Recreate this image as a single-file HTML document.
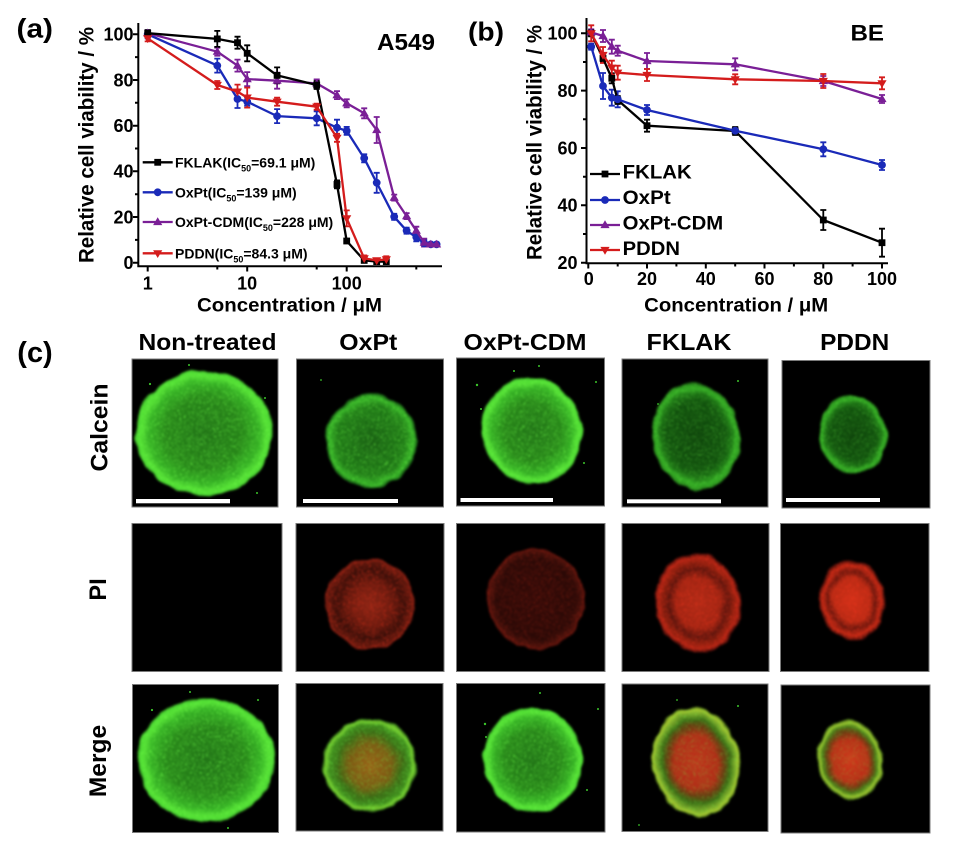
<!DOCTYPE html>
<html><head><meta charset="utf-8"><style>
html,body{margin:0;padding:0;background:#fff;}
svg{display:block;}
</style></head><body>
<svg width="955" height="845" viewBox="0 0 955 845" xmlns="http://www.w3.org/2000/svg" font-family="'Liberation Sans', Arial, sans-serif" font-weight="bold">
<defs>
<marker id="mSq" markerUnits="userSpaceOnUse" markerWidth="10" markerHeight="10" refX="5" refY="5" overflow="visible"><rect x="1.6" y="1.6" width="6.8" height="6.8" fill="#000"/></marker>
<marker id="mCi" markerUnits="userSpaceOnUse" markerWidth="10" markerHeight="10" refX="5" refY="5" overflow="visible"><circle cx="5" cy="5" r="3.9" fill="#1a2ab8"/></marker>
<marker id="mTu" markerUnits="userSpaceOnUse" markerWidth="10" markerHeight="10" refX="5" refY="5.5" overflow="visible"><path d="M5 0.8L9.6 8.6H0.4Z" fill="#7a1f96"/></marker>
<marker id="mTd" markerUnits="userSpaceOnUse" markerWidth="10" markerHeight="10" refX="5" refY="4.5" overflow="visible"><path d="M5 9.2L9.6 1.4H0.4Z" fill="#d41c1c"/></marker>

<radialGradient id="gBright"><stop offset="0" stop-color="#207216"/><stop offset="0.55" stop-color="#268418"/><stop offset="0.8" stop-color="#35b024"/><stop offset="0.91" stop-color="#55e035"/><stop offset="0.97" stop-color="#4cd832"/><stop offset="1" stop-color="#1a5010"/></radialGradient>
<radialGradient id="gDim"><stop offset="0" stop-color="#185e12"/><stop offset="0.75" stop-color="#1f7a16"/><stop offset="0.92" stop-color="#38b428"/><stop offset="1" stop-color="#125010"/></radialGradient>
<radialGradient id="gDark"><stop offset="0" stop-color="#0d420a"/><stop offset="0.65" stop-color="#11520d"/><stop offset="0.8" stop-color="#1c7214"/><stop offset="0.9" stop-color="#34aa24"/><stop offset="0.96" stop-color="#2c961e"/><stop offset="1" stop-color="#0f3a0a"/></radialGradient>
<radialGradient id="rOx"><stop offset="0" stop-color="#8a2414"/><stop offset="0.45" stop-color="#6a1a0e"/><stop offset="0.75" stop-color="#380e08"/><stop offset="0.9" stop-color="#5a160c"/><stop offset="0.97" stop-color="#7a1c10"/><stop offset="1" stop-color="#200604"/></radialGradient>
<radialGradient id="rCDM"><stop offset="0" stop-color="#340a07"/><stop offset="0.8" stop-color="#2a0906"/><stop offset="0.92" stop-color="#44100a"/><stop offset="0.97" stop-color="#60140c"/><stop offset="1" stop-color="#1a0403"/></radialGradient>
<radialGradient id="rFK"><stop offset="0" stop-color="#b02a16"/><stop offset="0.5" stop-color="#a02412"/><stop offset="0.68" stop-color="#5a140c"/><stop offset="0.82" stop-color="#8a1e0e"/><stop offset="0.92" stop-color="#b02414"/><stop offset="1" stop-color="#300806"/></radialGradient>
<radialGradient id="rPD"><stop offset="0" stop-color="#d03018"/><stop offset="0.55" stop-color="#b82a14"/><stop offset="0.72" stop-color="#6a160c"/><stop offset="0.88" stop-color="#c02814"/><stop offset="1" stop-color="#300806"/></radialGradient>
<radialGradient id="mOx"><stop offset="0" stop-color="#9a5a14"/><stop offset="0.45" stop-color="#7a5a12"/><stop offset="0.7" stop-color="#3a6a14"/><stop offset="0.85" stop-color="#3e8a1c"/><stop offset="0.94" stop-color="#7ad030"/><stop offset="1" stop-color="#1a4a0e"/></radialGradient>
<radialGradient id="mFK"><stop offset="0" stop-color="#c0301a"/><stop offset="0.5" stop-color="#b02c16"/><stop offset="0.64" stop-color="#6a3a10"/><stop offset="0.76" stop-color="#3a6a14"/><stop offset="0.88" stop-color="#7aa82a"/><stop offset="0.95" stop-color="#a8c830"/><stop offset="1" stop-color="#2a4a0e"/></radialGradient>
<radialGradient id="mPD"><stop offset="0" stop-color="#d0341a"/><stop offset="0.55" stop-color="#b82e16"/><stop offset="0.7" stop-color="#6a3a10"/><stop offset="0.82" stop-color="#4a7a18"/><stop offset="0.92" stop-color="#a0c830"/><stop offset="1" stop-color="#2a4a0e"/></radialGradient>

<filter id="rough" x="-20%" y="-20%" width="140%" height="140%" color-interpolation-filters="sRGB">
<feTurbulence type="fractalNoise" baseFrequency="0.06" numOctaves="2" seed="3" result="t"/>
<feDisplacementMap in="SourceGraphic" in2="t" scale="6" xChannelSelector="R" yChannelSelector="G" result="d"/>
<feGaussianBlur in="d" stdDeviation="1"/>
</filter>
<filter id="speckG" x="0" y="0" width="100%" height="100%" color-interpolation-filters="sRGB">
<feTurbulence type="fractalNoise" baseFrequency="0.7" numOctaves="1" seed="7" result="n"/>
<feColorMatrix in="n" type="matrix" values="0 0 0 0 0.45  0 0 0 0 1  0 0 0 0 0.3  8 0 0 0 -4.4" result="d"/>
<feComposite in="d" in2="SourceAlpha" operator="in"/>
</filter>
<filter id="speckR" x="0" y="0" width="100%" height="100%" color-interpolation-filters="sRGB">
<feTurbulence type="fractalNoise" baseFrequency="0.7" numOctaves="1" seed="11" result="n"/>
<feColorMatrix in="n" type="matrix" values="0 0 0 0 1  0 0 0 0 0.22  0 0 0 0 0.12  8 0 0 0 -4.4" result="d"/>
<feComposite in="d" in2="SourceAlpha" operator="in"/>
</filter>
</defs>

<rect width="955" height="845" fill="#fff"/>

<!-- ================= Chart (a) ================= -->
<text x="16.5" y="37.6" font-size="27" textLength="36.5" lengthAdjust="spacingAndGlyphs">(a)</text>
<text x="377" y="50" font-size="23.5" textLength="58" lengthAdjust="spacingAndGlyphs">A549</text>
<g stroke="#000" stroke-width="2" fill="none">
<path d="M138.3 23V267.2M137.3 266.2H442"/>
<path d="M133 262.7H138M133 217H138M133 171.3H138M133 125.7H138M133 80H138M133 34.3H138"/>
<path d="M135 239.9H138M135 194.2H138M135 148.5H138M135 102.8H138M135 57.1H138"/>
<path d="M147.7 266V271.5M247.2 266V271.5M346.7 266V271.5M217.3 266V269.5M316.7 266V269.5M416.3 266V269.5"/>
</g>
<g font-size="18" text-anchor="end">
<text x="133.5" y="269">0</text>
<text x="133.5" y="223.3">20</text>
<text x="133.5" y="177.6">40</text>
<text x="133.5" y="132">60</text>
<text x="133.5" y="86.3">80</text>
<text x="133.5" y="40.6">100</text>
</g>
<g font-size="18" text-anchor="middle">
<text x="147.7" y="289.5">1</text>
<text x="247.2" y="289.5">10</text>
<text x="346.7" y="289.5">100</text>
</g>
<text x="289.5" y="311.5" font-size="19" text-anchor="middle" textLength="185" lengthAdjust="spacingAndGlyphs">Concentration / μM</text>
<text transform="translate(93.5,145) rotate(-90)" font-size="21" text-anchor="middle" textLength="236" lengthAdjust="spacingAndGlyphs">Relative cell viability / %</text>

<!-- error bars (a) -->
<g fill="none" stroke-width="1.8">
<path stroke="#1a2ab8" d="M147.7 30.3V38.3M144.7 30.3h6M144.7 38.3h6M217.3 58.6V72.6M214.3 58.6h6M214.3 72.6h6M237.5 90V108M234.5 90h6M234.5 108h6M247.2 97.7V105.7M244.2 97.7h6M244.2 105.7h6M277.1 109.1V123.1M274.1 109.1h6M274.1 123.1h6M316.7 111.3V125.3M313.7 111.3h6M313.7 125.3h6M337 119.7V135.7M334 119.7h6M334 135.7h6M346.7 126.9V134.9M343.7 126.9h6M343.7 134.9h6M364.2 154.3V162.3M361.2 154.3h6M361.2 162.3h6M376.7 172.8V192.8M373.7 172.8h6M373.7 192.8h6M394.2 213.8V219.8M391.2 213.8h6M391.2 219.8h6M406.6 227.7V233.7M403.6 227.7h6M403.6 233.7h6M416.3 233.3V241.3M413.3 233.3h6M413.3 241.3h6M424.2 240.3V246.3M421.2 240.3h6M421.2 246.3h6"/>
<path stroke="#7a1f96" d="M147.7 30.2V36.2M144.7 30.2h6M144.7 36.2h6M217.3 47.7V55.7M214.3 47.7h6M214.3 55.7h6M237.5 59.6V71.6M234.5 59.6h6M234.5 71.6h6M247.2 72.1V86.1M244.2 72.1h6M244.2 86.1h6M277.1 72.7V88.7M274.1 72.7h6M274.1 88.7h6M316.7 79.4V87.4M313.7 79.4h6M313.7 87.4h6M337 91.1V99.1M334 91.1h6M334 99.1h6M346.7 99.3V107.3M343.7 99.3h6M343.7 107.3h6M364.2 108.3V118.3M361.2 108.3h6M361.2 118.3h6M376.7 117V143M373.7 117h6M373.7 143h6M394.2 194.6V200.6M391.2 194.6h6M391.2 200.6h6M406.6 213.1V219.1M403.6 213.1h6M403.6 219.1h6M416.3 226.7V234.7M413.3 226.7h6M413.3 234.7h6M424.2 238.6V246.6M421.2 238.6h6M421.2 246.6h6"/>
<path stroke="#d41c1c" d="M147.7 35.4V41.4M144.7 35.4h6M144.7 41.4h6M217.3 81V89M214.3 81h6M214.3 89h6M237.5 84.6V98.6M234.5 84.6h6M234.5 98.6h6M247.2 87.6V107.6M244.2 87.6h6M244.2 107.6h6M277.1 97.7V105.7M274.1 97.7h6M274.1 105.7h6M316.7 103.7V109.7M313.7 103.7h6M313.7 109.7h6M337 133.8V141.8M334 133.8h6M334 141.8h6M346.7 210.4V226.4M343.7 210.4h6M343.7 226.4h6M364.2 255.4V261.4M361.2 255.4h6M361.2 261.4h6M376.7 258.4V262.4M373.7 258.4h6M373.7 262.4h6M386.3 256.3V262.3M383.3 256.3h6M383.3 262.3h6"/>
<path stroke="#000" d="M147.7 30.2V36.2M144.7 30.2h6M144.7 36.2h6M217.3 30.9V46.9M214.3 30.9h6M214.3 46.9h6M237.5 36.7V48.7M234.5 36.7h6M234.5 48.7h6M247.2 45.3V61.3M244.2 45.3h6M244.2 61.3h6M277.1 67.4V83.4M274.1 67.4h6M274.1 83.4h6M316.7 81V89M313.7 81h6M313.7 89h6M337 180.4V188.4M334 180.4h6M334 188.4h6M346.7 239V243M343.7 239h6M343.7 243h6"/>
</g>
<!-- series (a) -->
<g fill="none" stroke-width="2.3" stroke-linejoin="round">
<polyline stroke="#1a2ab8" marker-start="url(#mCi)" marker-mid="url(#mCi)" marker-end="url(#mCi)" points="147.7,34.3 217.3,65.6 237.5,99 247.2,101.7 277.1,116.1 316.7,118.3 337,127.7 346.7,130.9 364.2,158.3 376.7,182.8 394.2,216.8 406.6,230.7 416.3,237.3 424.2,243.3 430.8,244.4 436.6,244.4"/>
<polyline stroke="#7a1f96" marker-start="url(#mTu)" marker-mid="url(#mTu)" marker-end="url(#mTu)" points="147.7,33.2 217.3,51.7 237.5,65.6 247.2,79.1 277.1,80.7 316.7,83.4 337,95.1 346.7,103.3 364.2,113.3 376.7,130 394.2,197.6 406.6,216.1 416.3,230.7 424.2,242.6 430.8,244.4 436.6,244.4"/>
<polyline stroke="#000" marker-start="url(#mSq)" marker-mid="url(#mSq)" marker-end="url(#mSq)" points="147.7,33.2 217.3,38.9 237.5,42.7 247.2,53.3 277.1,75.4 316.7,85 337,184.4 346.7,241 364.2,260.4 376.7,261.6 386.3,261.6"/>
<polyline stroke="#d41c1c" marker-start="url(#mTd)" marker-mid="url(#mTd)" marker-end="url(#mTd)" points="147.7,38.4 217.3,85 237.5,91.6 247.2,97.6 277.1,101.7 316.7,106.7 337,137.8 346.7,218.4 364.2,258.4 376.7,260.4 386.3,259.3"/>
</g>
<!-- legend (a) -->
<g fill="none" stroke-width="2.3">
<polyline stroke="#000" marker-mid="url(#mSq)" points="142.7,162.3 157.7,162.3 172.7,162.3"/>
<polyline stroke="#1a2ab8" marker-mid="url(#mCi)" points="142.7,192.3 157.7,192.3 172.7,192.3"/>
<polyline stroke="#7a1f96" marker-mid="url(#mTu)" points="142.7,222 157.7,222 172.7,222"/>
<polyline stroke="#d41c1c" marker-mid="url(#mTd)" points="142.7,253.3 157.7,253.3 172.7,253.3"/>
</g>
<g font-size="14">
<text x="175" y="167.3">FKLAK(IC<tspan font-size="9" dy="4">50</tspan><tspan dy="-4">=69.1 μM)</tspan></text>
<text x="175" y="197.3">OxPt(IC<tspan font-size="9" dy="4">50</tspan><tspan dy="-4">=139 μM)</tspan></text>
<text x="175" y="227">OxPt-CDM(IC<tspan font-size="9" dy="4">50</tspan><tspan dy="-4">=228 μM)</tspan></text>
<text x="175" y="258.3">PDDN(IC<tspan font-size="9" dy="4">50</tspan><tspan dy="-4">=84.3 μM)</tspan></text>
</g>

<!-- ================= Chart (b) ================= -->
<text x="468" y="40.5" font-size="26" textLength="36" lengthAdjust="spacingAndGlyphs">(b)</text>
<text x="850.5" y="40.5" font-size="22" textLength="33.5" lengthAdjust="spacingAndGlyphs">BE</text>
<g stroke="#000" stroke-width="2" fill="none">
<path d="M586.5 18V264.2M585.5 263.2H888"/>
<path d="M581 262.7H586.5M581 205.3H586.5M581 148H586.5M581 90.6H586.5M581 33.3H586.5"/>
<path d="M583 234H586.5M583 176.7H586.5M583 119.3H586.5M583 62H586.5"/>
<path d="M588.3 263V268.5M647 263V268.5M705.8 263V268.5M764.5 263V268.5M823.3 263V268.5M882 263V268.5"/>
<path d="M617.7 263V266.5M676.4 263V266.5M735.2 263V266.5M793.9 263V266.5M852.6 263V266.5"/>
</g>
<g font-size="18" text-anchor="end">
<text x="577.5" y="269">20</text>
<text x="577.5" y="211.6">40</text>
<text x="577.5" y="154.3">60</text>
<text x="577.5" y="96.9">80</text>
<text x="577.5" y="39.6">100</text>
</g>
<g font-size="18" text-anchor="middle">
<text x="588.8" y="285">0</text>
<text x="647" y="285">20</text>
<text x="705.8" y="285">40</text>
<text x="764.5" y="285">60</text>
<text x="823.3" y="285">80</text>
<text x="882" y="285">100</text>
</g>
<text x="736.2" y="311.5" font-size="19" text-anchor="middle" textLength="184" lengthAdjust="spacingAndGlyphs">Concentration / μM</text>
<text transform="translate(541.5,142.5) rotate(-90)" font-size="21" text-anchor="middle" textLength="235" lengthAdjust="spacingAndGlyphs">Relative cell viability / %</text>

<g fill="none" stroke-width="1.8">
<path stroke="#7a1f96" d="M591.2 29.3V35.3M588.2 29.3h6M588.2 35.3h6M603 30V42M600 30h6M600 42h6M611.8 39.7V53.7M608.8 39.7h6M608.8 53.7h6M617.7 45.7V55.7M614.7 45.7h6M614.7 55.7h6M647 53V69M644 53h6M644 69h6M735.2 58.3V70.3M732.2 58.3h6M732.2 70.3h6M823.3 76V86M820.3 76h6M820.3 86h6M882 95V103M879 95h6M879 103h6"/>
<path stroke="#1a2ab8" d="M591.2 43.7V49.7M588.2 43.7h6M588.2 49.7h6M603 73V99M600 73h6M600 99h6M611.8 89.7V105.7M608.8 89.7h6M608.8 105.7h6M617.7 91.3V107.3M614.7 91.3h6M614.7 107.3h6M647 105V115M644 105h6M644 115h6M735.2 127.7V133.7M732.2 127.7h6M732.2 133.7h6M823.3 142.3V156.3M820.3 142.3h6M820.3 156.3h6M882 160V170M879 160h6M879 170h6"/>
<path stroke="#000" d="M591.2 30.3V36.3M588.2 30.3h6M588.2 36.3h6M603 54.3V62.3M600 54.3h6M600 62.3h6M611.8 73.3V83.3M608.8 73.3h6M608.8 83.3h6M617.7 96V104M614.7 96h6M614.7 104h6M647 119.7V131.7M644 119.7h6M644 131.7h6M735.2 127V135M732.2 127h6M732.2 135h6M823.3 210V230M820.3 210h6M820.3 230h6M882 228.7V256.7M879 228.7h6M879 256.7h6"/>
<path stroke="#d41c1c" d="M591.2 25.3V41.3M588.2 25.3h6M588.2 41.3h6M603 47V63M600 47h6M600 63h6M611.8 60.7V74.7M608.8 60.7h6M608.8 74.7h6M617.7 65.7V79.7M614.7 65.7h6M614.7 79.7h6M647 69V81M644 69h6M644 81h6M735.2 74.3V84.3M732.2 74.3h6M732.2 84.3h6M823.3 74V88M820.3 74h6M820.3 88h6M882 77.3V89.3M879 77.3h6M879 89.3h6"/>
</g>
<g fill="none" stroke-width="2.3" stroke-linejoin="round">
<polyline stroke="#000" marker-start="url(#mSq)" marker-mid="url(#mSq)" marker-end="url(#mSq)" points="591.2,33.3 603,58.3 611.8,78.3 617.7,100 647,125.7 735.2,131 823.3,220 882,242.7"/>
<polyline stroke="#1a2ab8" marker-start="url(#mCi)" marker-mid="url(#mCi)" marker-end="url(#mCi)" points="591.2,46.7 603,86 611.8,97.7 617.7,99.3 647,110 735.2,130.7 823.3,149.3 882,165"/>
<polyline stroke="#7a1f96" marker-start="url(#mTu)" marker-mid="url(#mTu)" marker-end="url(#mTu)" points="591.2,32.3 603,36 611.8,46.7 617.7,50.7 647,61 735.2,64.3 823.3,81 882,99"/>
<polyline stroke="#d41c1c" marker-start="url(#mTd)" marker-mid="url(#mTd)" marker-end="url(#mTd)" points="591.2,33.3 603,55 611.8,67.7 617.7,72.7 647,75 735.2,79.3 823.3,81 882,83.3"/>
</g>
<g fill="none" stroke-width="2.3">
<polyline stroke="#000" marker-mid="url(#mSq)" points="590,174 605,174 620,174"/>
<polyline stroke="#1a2ab8" marker-mid="url(#mCi)" points="590,200 605,200 620,200"/>
<polyline stroke="#7a1f96" marker-mid="url(#mTu)" points="590,225 605,225 620,225"/>
<polyline stroke="#d41c1c" marker-mid="url(#mTd)" points="590,250 605,250 620,250"/>
</g>
<g font-size="19.5">
<text x="622.7" y="178.3" textLength="69" lengthAdjust="spacingAndGlyphs">FKLAK</text>
<text x="622.7" y="204" textLength="48" lengthAdjust="spacingAndGlyphs">OxPt</text>
<text x="622.7" y="229.3" textLength="100.5" lengthAdjust="spacingAndGlyphs">OxPt-CDM</text>
<text x="622.7" y="255" textLength="57.3" lengthAdjust="spacingAndGlyphs">PDDN</text>
</g>

<!-- ================= Panel (c) ================= -->
<text x="17.3" y="362" font-size="29" textLength="35.4" lengthAdjust="spacingAndGlyphs">(c)</text>
<g font-size="23.5" text-anchor="middle">
<text x="207.5" y="350" textLength="138" lengthAdjust="spacingAndGlyphs">Non-treated</text>
<text x="368.3" y="350" textLength="58" lengthAdjust="spacingAndGlyphs">OxPt</text>
<text x="525" y="350" textLength="123" lengthAdjust="spacingAndGlyphs">OxPt-CDM</text>
<text x="689" y="350" textLength="85" lengthAdjust="spacingAndGlyphs">FKLAK</text>
<text x="854.7" y="350" textLength="69" lengthAdjust="spacingAndGlyphs">PDDN</text>
</g>
<g font-size="24.5" text-anchor="middle">
<text transform="translate(107.5,427.5) rotate(-90)" textLength="88" lengthAdjust="spacingAndGlyphs">Calcein</text>
<text transform="translate(106,589.5) rotate(-90)" textLength="22.3" lengthAdjust="spacingAndGlyphs">PI</text>
<text transform="translate(106,761) rotate(-90)" textLength="72.3" lengthAdjust="spacingAndGlyphs">Merge</text>
</g>

<!-- image frames -->
<g fill="#000" stroke="#7a7a7a" stroke-width="1">
<rect x="132" y="359" width="146" height="148"/>
<rect x="296.5" y="359" width="147" height="148"/>
<rect x="456.5" y="358" width="148" height="148"/>
<rect x="622" y="359" width="146" height="148"/>
<rect x="782" y="360.5" width="148" height="147.5"/>
<rect x="132" y="523.5" width="150" height="148"/>
<rect x="296" y="523.5" width="148" height="148"/>
<rect x="456.5" y="523.5" width="148.5" height="148"/>
<rect x="622" y="523.5" width="147" height="148"/>
<rect x="780.5" y="523.5" width="148.5" height="148"/>
<rect x="132.5" y="684.5" width="146" height="148"/>
<rect x="296" y="683.5" width="147" height="147.5"/>
<rect x="456.5" y="683.5" width="148.5" height="148.5"/>
<rect x="622" y="684" width="146" height="147.5"/>
<rect x="781" y="685" width="149" height="148"/>
</g>

<!-- Row 1: Calcein -->
<g filter="url(#rough)">
<ellipse cx="204" cy="433" rx="69" ry="63" fill="url(#gBright)"/>
<ellipse cx="204" cy="433" rx="67" ry="61" fill="#fff" filter="url(#speckG)" opacity="0.7"/>
</g>
<g filter="url(#rough)">
<ellipse cx="371" cy="441" rx="46" ry="47" fill="url(#gDim)"/>
<ellipse cx="371" cy="441" rx="44" ry="45" fill="#fff" filter="url(#speckG)" opacity="0.6"/>
</g>
<g filter="url(#rough)" transform="rotate(-15 532 431)">
<ellipse cx="532" cy="431" rx="50" ry="54" fill="url(#gBright)"/>
<ellipse cx="532" cy="431" rx="48" ry="52" fill="#fff" filter="url(#speckG)" opacity="0.7"/>
</g>
<g filter="url(#rough)" transform="rotate(-10 696 436)">
<ellipse cx="696" cy="436" rx="44" ry="54" fill="url(#gDark)"/>
<ellipse cx="696" cy="436" rx="43" ry="53" fill="#fff" filter="url(#speckG)" opacity="0.45"/>
</g>
<g filter="url(#rough)" transform="rotate(-12 853 435)">
<ellipse cx="853" cy="435" rx="34" ry="40" fill="url(#gDark)"/>
<ellipse cx="853" cy="435" rx="33" ry="39" fill="#fff" filter="url(#speckG)" opacity="0.4"/>
</g>
<g fill="#fff">
<rect x="136" y="499" width="94" height="4.3"/>
<rect x="303" y="499" width="95" height="4"/>
<rect x="460.5" y="498" width="92.5" height="4"/>
<rect x="627" y="499.3" width="94" height="4"/>
<rect x="786" y="498" width="94" height="4"/>
</g>
<g fill="#3bc42a">
<circle cx="150" cy="384" r="1.1"/><circle cx="189" cy="365" r="1"/><circle cx="265" cy="398" r="1"/><circle cx="257" cy="493" r="1"/>
<circle cx="477" cy="385" r="1.2"/><circle cx="514" cy="371" r="1"/><circle cx="539" cy="366" r="1"/><circle cx="596" cy="382" r="1"/><circle cx="584" cy="463" r="1"/><circle cx="481" cy="409" r="1"/>
<circle cx="738" cy="381" r="1"/><circle cx="658" cy="404" r="0.9"/><circle cx="321" cy="380" r="0.9"/>
</g>

<!-- Row 2: PI -->
<g filter="url(#rough)">
<ellipse cx="370" cy="604" rx="45" ry="46" fill="url(#rOx)"/>
<ellipse cx="370" cy="604" rx="44" ry="45" fill="#fff" filter="url(#speckR)" opacity="0.55"/>
</g>
<g filter="url(#rough)" transform="rotate(-15 536 599)">
<ellipse cx="536" cy="599" rx="49" ry="51" fill="url(#rCDM)"/>
<ellipse cx="536" cy="599" rx="48" ry="50" fill="#fff" filter="url(#speckR)" opacity="0.3"/>
</g>
<g filter="url(#rough)" transform="rotate(-10 698 603)">
<ellipse cx="698" cy="603" rx="43" ry="50" fill="url(#rFK)"/>
<ellipse cx="698" cy="603" rx="42" ry="49" fill="#fff" filter="url(#speckR)" opacity="0.6"/>
</g>
<g filter="url(#rough)" transform="rotate(-12 852 600)">
<ellipse cx="852" cy="600" rx="33" ry="40" fill="url(#rPD)"/>
<ellipse cx="852" cy="600" rx="32" ry="39" fill="#fff" filter="url(#speckR)" opacity="0.6"/>
</g>

<!-- Row 3: Merge -->
<g filter="url(#rough)">
<ellipse cx="206" cy="760" rx="69" ry="62" fill="url(#gBright)"/>
<ellipse cx="206" cy="760" rx="67" ry="60" fill="#fff" filter="url(#speckG)" opacity="0.7"/>
</g>
<g filter="url(#rough)">
<ellipse cx="370" cy="765" rx="47" ry="47" fill="url(#mOx)"/>
<ellipse cx="370" cy="765" rx="45" ry="45" fill="#fff" filter="url(#speckG)" opacity="0.55"/>
</g>
<g filter="url(#rough)" transform="rotate(-15 533 760)">
<ellipse cx="533" cy="760" rx="50" ry="53" fill="url(#gBright)"/>
<ellipse cx="533" cy="760" rx="48" ry="51" fill="#fff" filter="url(#speckG)" opacity="0.7"/>
</g>
<g filter="url(#rough)" transform="rotate(-10 696 762)">
<ellipse cx="696" cy="762" rx="44" ry="55" fill="url(#mFK)"/>
<ellipse cx="696" cy="762" rx="43" ry="54" fill="#fff" filter="url(#speckG)" opacity="0.4"/>
</g>
<g filter="url(#rough)" transform="rotate(-12 850 760)">
<ellipse cx="850" cy="760" rx="33" ry="40" fill="url(#mPD)"/>
<ellipse cx="850" cy="760" rx="32" ry="39" fill="#fff" filter="url(#speckG)" opacity="0.35"/>
</g>
<g fill="#3bc42a">
<circle cx="152" cy="710" r="1.1"/><circle cx="190" cy="692" r="1"/><circle cx="228" cy="828" r="1"/><circle cx="258" cy="700" r="1"/>
<circle cx="485" cy="724" r="1.2"/><circle cx="540" cy="693" r="1"/><circle cx="598" cy="709" r="1"/><circle cx="486" cy="737" r="1"/><circle cx="587" cy="790" r="1"/>
<circle cx="738" cy="706" r="1"/><circle cx="677" cy="700" r="0.9"/><circle cx="639" cy="825" r="0.9"/>
</g>
</svg>
</body></html>
